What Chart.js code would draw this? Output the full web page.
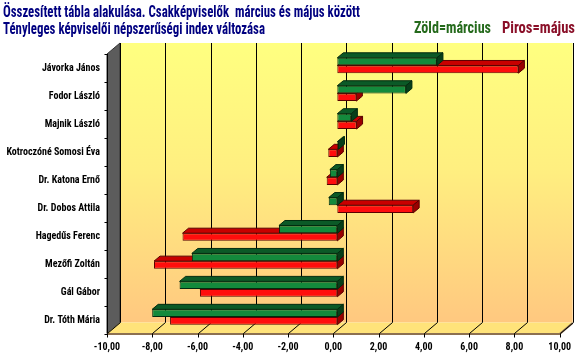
<!DOCTYPE html>
<html><head><meta charset="utf-8">
<script src="https://cdn.jsdelivr.net/npm/chart.js@4.4.0/dist/chart.umd.min.js"></script>
<style>
html,body{margin:0;padding:0;background:#fff;width:585px;height:359px;overflow:hidden}
#wrap{position:relative;width:585px;height:359px}
canvas{position:absolute;left:0;top:0}
.t{position:absolute;font-family:'Roboto Condensed','Liberation Sans',sans-serif;font-weight:bold;font-size:16px;line-height:16px;white-space:nowrap;transform-origin:0 0}
</style></head><body>
<div id="wrap">
<canvas id="c" width="585" height="359"></canvas>
<div class="t" data-w="357" style="left:3px;top:4px;color:#000080">Összesített tábla alakulása. Csakképviselők&nbsp; március és május között</div>
<div class="t" data-w="262" style="left:3px;top:20.5px;color:#000080">Tényleges képviselői népszerűségi index változása</div>
<div class="t" data-w="77" style="left:414px;top:20px;color:#256a1c">Zöld=március</div>
<div class="t" data-w="73" style="left:502px;top:20px;color:#8a0f28">Piros=május</div>
</div>
<script>
// ---- data ----
const categories = ['Jávorka János','Fodor László','Majnik László','Kotroczóné Somosi Éva','Dr. Katona Ernő','Dr. Dobos Attila','Hagedűs Ferenc','Mezőfi Zoltán','Gál Gábor','Dr. Tóth Mária'];
const marciusValues = [4.40, 3.03, 0.62, 0.05, -0.33, -0.38, -2.58, -6.43, -6.97, -8.18];
const majusValues   = [8.00, 0.84, 0.85, -0.40, -0.47, 3.35, -6.84, -8.10, -6.07, -7.39];
const xTickValues = [-10,-8,-6,-4,-2,0,2,4,6,8,10];

// ---- title sizing ----
document.querySelectorAll('.t').forEach(el=>{
  const w = el.getBoundingClientRect().width;
  const target = +el.dataset.w;
  el.style.transform = 'scaleX(' + (target / w) + ')';
});

const FX=-4, FY=2.5, BX=9, BY=-8.5, DX=6, DY=5;

function poly(ctx, pts, fill, stroke){
  ctx.beginPath();
  ctx.moveTo(pts[0][0], pts[0][1]);
  for(let i=1;i<pts.length;i++) ctx.lineTo(pts[i][0], pts[i][1]);
  ctx.closePath();
  if(fill){ctx.fillStyle=fill;ctx.fill();}
  if(stroke){ctx.strokeStyle=stroke;ctx.lineWidth=1;ctx.stroke();}
}

const wallsPlugin = {
  id:'walls',
  beforeDatasetsDraw(chart){
    const ctx = chart.ctx, ca = chart.chartArea, xs = chart.scales.x;
    const x0 = xs.getPixelForValue(xTickValues[0]);
    const x1 = xs.getPixelForValue(xTickValues[xTickValues.length-1]);
    const bt = ca.top+BY, bb = ca.bottom+BY, ft = ca.top+FY, fb = ca.bottom+FY;
    ctx.save();
    // back wall
    const g = ctx.createLinearGradient(0, bt, 0, bb);
    g.addColorStop(0,'#ffff80'); g.addColorStop(0.45,'#ffef80'); g.addColorStop(1,'#ffc880');
    ctx.fillStyle = g;
    ctx.fillRect(x0+BX, bt, x1-x0, bb-bt);
    // left wall
    poly(ctx, [[x0+FX, ft],[x0+BX, bt],[x0+BX, bb],[x0+FX, fb]], '#5c5c5c', '#333');
    // floor
    poly(ctx, [[x0+FX, fb],[x0+BX, bb],[x1+BX, bb],[x1+FX, fb]], '#ffe37a', null);
    ctx.strokeStyle='#8c7050'; ctx.lineWidth=2;
    ctx.beginPath(); ctx.moveTo(x0+FX, fb+0.5); ctx.lineTo(x1+FX, fb+0.5); ctx.lineTo(x1+BX, bb+0.5); ctx.stroke();
    // gridlines
    ctx.strokeStyle='#000'; ctx.lineWidth=1;
    xTickValues.forEach(v=>{
      const px = Math.round(xs.getPixelForValue(v))+0.5;
      ctx.beginPath();
      ctx.moveTo(px+BX, bt); ctx.lineTo(px+BX, bb); ctx.lineTo(px+FX, fb);
      ctx.lineTo(px+FX, fb+4);
      ctx.stroke();
    });
    // y axis line & ticks
    const ax = Math.round(x0+FX)+0.5;
    ctx.beginPath(); ctx.moveTo(ax, ft); ctx.lineTo(ax, fb); ctx.stroke();
    const step = (ca.bottom-ca.top)/categories.length;
    for(let i=0;i<=categories.length;i++){
      const y = Math.round(ca.top + i*step + FY)+0.5;
      ctx.beginPath(); ctx.moveTo(ax-3, y); ctx.lineTo(ax, y); ctx.stroke();
    }
    ctx.restore();
  },
  beforeDatasetDraw(chart, args){
    const ctx = chart.ctx;
    const ds = chart.data.datasets[args.index];
    ctx.save();
    args.meta.data.forEach(bar=>{
      const p = bar.getProps(['x','y','base','height'], true);
      const l = Math.min(p.x,p.base), r = Math.max(p.x,p.base);
      const t = p.y - p.height/2, b = p.y + p.height/2;
      poly(ctx, [[l,t],[l+DX,t-DY],[r+DX,t-DY],[r,t]], ds.topColor, ds.borderColor);
      poly(ctx, [[r,t],[r+DX,t-DY],[r+DX,b-DY],[r,b]], ds.sideColor, ds.borderColor);
    });
    ctx.restore();
  }
};

new Chart(document.getElementById('c'), {
  type:'bar',
  data:{
    labels: categories,
    datasets:[
      {label:'március', data: marciusValues, backgroundColor:'#138a3c', topColor:'#0b5a27', sideColor:'#073f1a', borderColor:'#022b0f', borderWidth:1, borderSkipped:false},
      {label:'május', data: majusValues, backgroundColor:'#ff0d0d', topColor:'#c80000', sideColor:'#9a0000', borderColor:'#5a0000', borderWidth:1, borderSkipped:false}
    ]
  },
  options:{
    indexAxis:'y',
    responsive:false,
    animation:false,
    events:[],
    layout:{padding:{top:51.5, right:16, bottom:0, left:0}},
    datasets:{bar:{categoryPercentage:0.55, barPercentage:1.0}},
    plugins:{legend:{display:false}, title:{display:false}, tooltip:{enabled:false}},
    scales:{
      x:{
        min:-10, max:10,
        afterFit(s){ s.height = 28; },
        afterBuildTicks(s){ s.ticks = xTickValues.map(v=>({value:v})); },
        grid:{display:false, drawTicks:false},
        border:{display:false},
        ticks:{
          padding:10, labelOffset:-4, maxRotation:0, autoSkip:false,
          color:'#000', font:{family:"'Roboto Condensed','Liberation Sans',sans-serif", size:10, weight:'bold'},
          callback:(v)=> v.toFixed(2).replace('.',',')
        }
      },
      y:{
        afterFit(s){ s.width = 111; },
        grid:{display:false, drawTicks:false},
        border:{display:false},
        ticks:{
          padding:11, labelOffset:3.5, autoSkip:false,
          color:'#000', font:{family:"'Roboto Condensed','Liberation Sans',sans-serif", size:10, weight:'bold'}
        }
      }
    }
  },
  plugins:[wallsPlugin]
});
</script></body></html>
